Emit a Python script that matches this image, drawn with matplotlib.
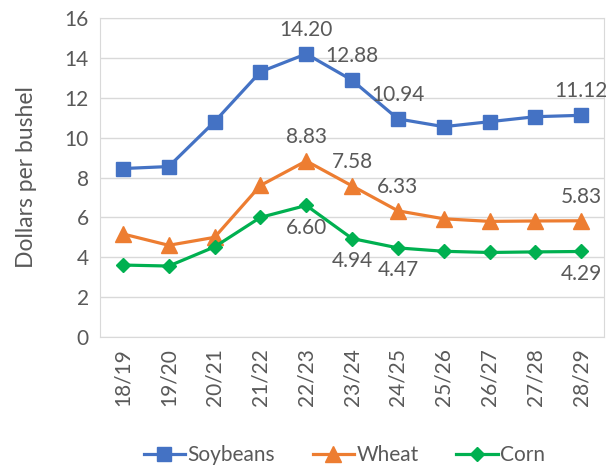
import numpy as np
from matplotlib import pyplot as plt

plt.rcParams['font.family'] = ['Lato', 'DejaVu Sans']

seasons = ['18/19', '19/20', '20/21', '21/22', '22/23', '23/24',
           '24/25', '25/26', '26/27', '27/28', '28/29']
soybeans = [8.45, 8.55, 10.8, 13.3, 14.20, 12.88, 10.94, 10.55, 10.8, 11.05, 11.12]
wheat = [5.17, 4.6, 5.0, 7.6, 8.83, 7.58, 6.33, 5.93, 5.8, 5.82, 5.83]
corn = [3.61, 3.56, 4.52, 6.0, 6.60, 4.94, 4.47, 4.3, 4.24, 4.27, 4.29]

# which points get a value label
soy_lab = [4, 5, 6, 10]
wheat_lab = [4, 5, 6, 10]
corn_lab = [4, 5, 6, 10]

grey = '#595959'
fs = 15
fig = plt.figure(figsize=[6.06, 4.69], dpi=100)
ax = fig.add_axes([0.165, 0.2814, 0.832, 0.6802])
x = np.arange(len(seasons))

ax.plot(x, soybeans, color='#4472C4', lw=2.3, marker='s', ms=10, label='Soybeans', zorder=3)
ax.plot(x, wheat, color='#ED7D31', lw=2.3, marker='^', ms=11, label='Wheat', zorder=3)
ax.plot(x, corn, color='#00B050', lw=2.3, marker='D', ms=7, label='Corn', zorder=3)

for i in soy_lab:
    ax.annotate(f'{soybeans[i]:.2f}', (x[i], soybeans[i]), xytext=(0, 10), textcoords='offset points',
                ha='center', va='bottom', fontsize=fs, color=grey)
for i in wheat_lab:
    ax.annotate(f'{wheat[i]:.2f}', (x[i], wheat[i]), xytext=(0, 10), textcoords='offset points',
                ha='center', va='bottom', fontsize=fs, color=grey)
for i in corn_lab:
    ax.annotate(f'{corn[i]:.2f}', (x[i], corn[i]), xytext=(0, -9), textcoords='offset points',
                ha='center', va='top', fontsize=fs, color=grey)

ax.set_xlim(-0.5, len(seasons) - 0.5)
ax.set_ylim(0, 16)
ax.set_yticks(range(0, 17, 2))
ax.set_xticks(x)
ax.set_xticklabels(seasons, rotation=90)
ax.tick_params(axis='both', length=0, labelsize=fs, labelcolor=grey, pad=8)
ax.yaxis.grid(True, color='#d9d9d9', lw=1)
ax.set_axisbelow(True)
for s in ['top', 'bottom', 'left', 'right']:
    ax.spines[s].set_color('#d9d9d9')
ax.set_ylabel('Dollars per bushel', fontsize=16.5, color=grey, labelpad=20)

fig.legend(loc='lower center', bbox_to_anchor=(0.568, -0.032), ncol=3, frameon=False,
           fontsize=fs, labelcolor=grey, handlelength=2.0, handletextpad=0.1, columnspacing=1.8)

plt.savefig('out.png', dpi=100)
